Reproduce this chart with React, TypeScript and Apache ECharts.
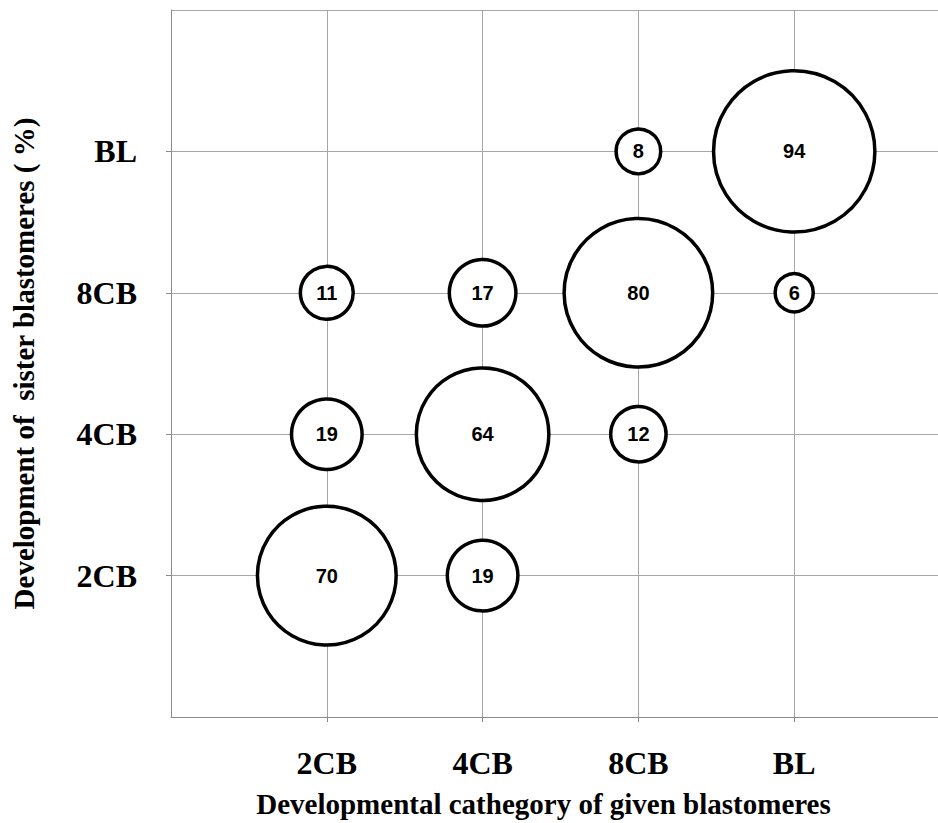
import React, { useEffect, useRef } from "react";
import * as echarts from "echarts";

const categories = ["2CB", "4CB", "8CB", "BL"];
// [given blastomere category, sister blastomere category, percentage]
const bubbles: [string, string, number][] = [
  ["2CB", "2CB", 70],
  ["2CB", "4CB", 19],
  ["2CB", "8CB", 11],
  ["4CB", "2CB", 19],
  ["4CB", "4CB", 64],
  ["4CB", "8CB", 17],
  ["8CB", "4CB", 12],
  ["8CB", "8CB", 80],
  ["8CB", "BL", 8],
  ["BL", "8CB", 6],
  ["BL", "BL", 94],
];
const xAxisTitle = "Developmental cathegory of given blastomeres";
const yAxisTitle = "Development of  sister blastomeres ( %)";

const serif = "'Liberation Serif', 'Times New Roman', serif";
const sans = "'Liberation Sans', Arial, sans-serif";

export default function App() {
  const ref = useRef<HTMLDivElement>(null);
  useEffect(() => {
    if (!ref.current) return;
    const chart = echarts.init(ref.current, undefined, { renderer: "svg" });
    const fmt = (v: number) => {
      const i = Math.round(v);
      return Math.abs(v - i) < 1e-6 && i >= 1 && i <= categories.length ? categories[i - 1] : "";
    };
    const data = bubbles.map(([gx, sy, v]) => [
      categories.indexOf(gx) + 1,
      categories.indexOf(sy) + 1,
      v,
    ]);
    const axisCommon = {
      type: "value" as const,
      min: 0,
      max: 5,
      interval: 1,
      axisLine: { show: true, lineStyle: { color: "#8c8c8c", width: 1 } },
      axisTick: { show: true, length: 5, lineStyle: { color: "#8c8c8c" } },
      splitLine: { show: true, lineStyle: { color: "#a6a6a6", width: 1 } },
      axisLabel: {
        formatter: fmt,
        fontFamily: serif,
        fontWeight: "bold" as const,
        fontSize: 32,
        color: "#000",
        showMinLabel: false,
        showMaxLabel: false,
      },
      nameLocation: "middle" as const,
      nameTextStyle: {
        fontFamily: serif,
        fontWeight: "bold" as const,
        fontSize: 29,
        color: "#000",
      },
    };
    chart.setOption({
      animation: false,
      backgroundColor: "#fff",
      grid: { left: 171, top: 10, right: 0, bottom: 101, containLabel: false },
      xAxis: {
        ...axisCommon,
        name: xAxisTitle,
        nameGap: 72,
        nameTextStyle: { ...axisCommon.nameTextStyle, padding: [0, 34, 0, 0] },
        axisLabel: { ...axisCommon.axisLabel, margin: 30 },
      },
      yAxis: {
        ...axisCommon,
        name: yAxisTitle,
        nameGap: 133,
        nameRotate: 90,
        axisLabel: { ...axisCommon.axisLabel, margin: 34 },
      },
      series: [
        {
          type: "scatter",
          data,
          symbol: "circle",
          symbolSize: (d: number[]) => 17 * Math.sqrt(d[2]) - 3.5,
          itemStyle: { color: "#fff", borderColor: "#000", borderWidth: 3.5, opacity: 1 },
          label: {
            show: true,
            position: "inside",
            formatter: (p: any) => String(p.value[2]),
            fontFamily: sans,
            fontWeight: "bold",
            fontSize: 20,
            color: "#000",
          },
          emphasis: { disabled: true },
        },
      ],
    });
    return () => chart.dispose();
  }, []);
  return (
    <div
      style={{
        position: "absolute",
        left: 0,
        top: 0,
        width: 938,
        height: 823,
        overflow: "hidden",
      }}
    >
      <div ref={ref} style={{ width: 950, height: 823 }} />
    </div>
  );
}
